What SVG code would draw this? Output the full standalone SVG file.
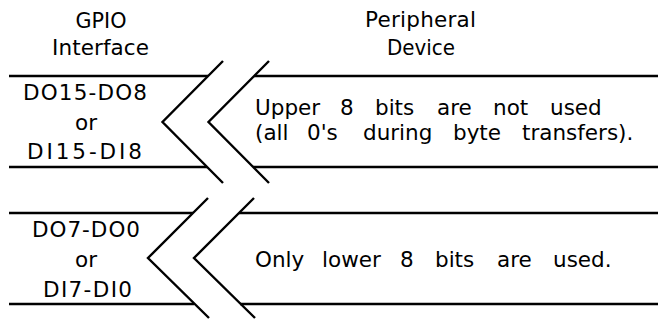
<svg xmlns="http://www.w3.org/2000/svg" width="658" height="322" viewBox="0 0 658 322">
<style>
  .t { font-family: "DejaVu Sans", "Liberation Sans", sans-serif; font-size: 21.5px; fill: #000; }
  .m { text-anchor: middle; }
  .ln { stroke: #000; stroke-width: 2.6; fill: none; stroke-linecap: butt; }
  .br { stroke: #000; stroke-width: 2.4; fill: none; stroke-linejoin: miter; stroke-linecap: butt; }
</style>
<rect width="658" height="322" fill="#fff"/>

<g id="gpio-header">
  <text class="t m" x="101" y="28" textLength="51" lengthAdjust="spacingAndGlyphs">GPIO</text>
  <text class="t m" x="100.5" y="55" textLength="97" lengthAdjust="spacing">Interface</text>
</g>

<g id="peripheral-header">
  <text class="t m" x="420.5" y="27" textLength="111" lengthAdjust="spacing">Peripheral</text>
  <text class="t m" x="421" y="55" textLength="68" lengthAdjust="spacingAndGlyphs">Device</text>
</g>

<g id="connectors">
  <!-- upper byte lines -->
  <line class="ln" x1="9" y1="76" x2="208" y2="76"/>
  <line class="ln" x1="254" y1="76" x2="658" y2="76"/>
  <line class="ln" x1="9" y1="167" x2="207" y2="167"/>
  <line class="ln" x1="253" y1="167" x2="658" y2="167"/>
  <!-- lower byte lines -->
  <line class="ln" x1="9" y1="213" x2="193" y2="213"/>
  <line class="ln" x1="239" y1="213" x2="658" y2="213"/>
  <line class="ln" x1="9" y1="304" x2="194" y2="304"/>
  <line class="ln" x1="240" y1="304" x2="658" y2="304"/>
  <!-- break marks -->
  <polyline class="br" points="223,61 162.5,122 223,183"/>
  <polyline class="br" points="269,61 208.5,122 269,183"/>
  <polyline class="br" points="208,198 148,258 209,318"/>
  <polyline class="br" points="254,198 194,258 255,318"/>
</g>

<g id="upper-byte-gpio">
  <text class="t m" x="85" y="100" textLength="124" lengthAdjust="spacing">DO15-DO8</text>
  <text class="t m" x="86" y="130">or</text>
  <text class="t m" x="84.5" y="159" textLength="115" lengthAdjust="spacing">DI15-DI8</text>
</g>

<g id="upper-byte-peripheral">
  <text class="t" y="115"><tspan x="255">Upper</tspan> <tspan x="340">8</tspan> <tspan x="375">bits</tspan> <tspan x="437">are</tspan> <tspan x="493">not</tspan> <tspan x="550">used</tspan></text>
  <text class="t" y="140"><tspan x="255">(all</tspan> <tspan x="307">0's</tspan> <tspan x="363">during</tspan> <tspan x="453">byte</tspan> <tspan x="522">transfers).</tspan></text>
</g>

<g id="lower-byte-gpio">
  <text class="t m" x="86" y="237" textLength="108" lengthAdjust="spacing">DO7-DO0</text>
  <text class="t m" x="86" y="267">or</text>
  <text class="t m" x="87.5" y="297" textLength="89" lengthAdjust="spacing">DI7-DI0</text>
</g>

<g id="lower-byte-peripheral">
  <text class="t" y="267"><tspan x="255">Only</tspan> <tspan x="322">lower</tspan> <tspan x="400">8</tspan> <tspan x="435">bits</tspan> <tspan x="497">are</tspan> <tspan x="553">used.</tspan></text>
</g>
</svg>
